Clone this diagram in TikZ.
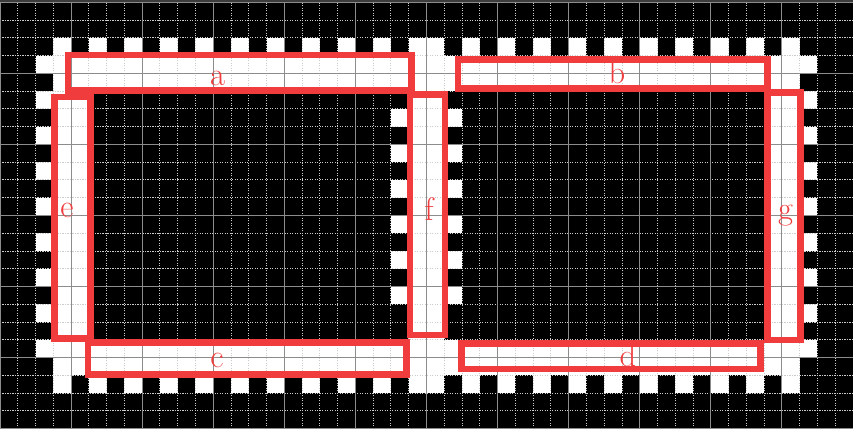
\documentclass[tikz,border=0pt]{standalone}
\definecolor{boxred}{RGB}{240,60,60}
\definecolor{dotgray}{RGB}{205,205,205}
\definecolor{solidgray}{RGB}{140,140,140}
\definecolor{topband}{RGB}{60,60,60}
\tikzset{
  pix/.style={fill=white},
  dotgrid/.style={draw=dotgray, line width=0.75pt, dash pattern=on 0.9pt off 1.1pt},
  solidgrid/.style={draw=solidgray, line width=0.8pt},
  hl/.style={draw=boxred, line width=5.3pt},
  lab/.style={text=boxred, font=\fontsize{26}{28}\selectfont, anchor=base, inner sep=0pt}
}
\begin{document}
\begin{tikzpicture}[x=0.5cm,y=0.5cm]
\useasboundingbox (0,-0.02) rectangle (48,24.124);
\fill[topband] (0,-0.02) rectangle (48,24.124);
\fill[black] (0,0) rectangle (48,24);
% full white rows
\fill[pix] (2,20) rectangle (46,21);
\fill[pix] (3,19) rectangle (45,20);
\fill[pix] (2,4) rectangle (46,5);
\fill[pix] (3,3) rectangle (45,4);
% vertical bars
\fill[pix] (3,5) rectangle (5,19);
\fill[pix] (23,5) rectangle (25,19);
\fill[pix] (43,5) rectangle (45,19);
% top and bottom dashed rows
\foreach \c in {3,5,...,21} {
  \fill[pix] (\c,21) rectangle ++(1,1);
  \fill[pix] (\c,2) rectangle ++(1,1);
}
\foreach \c in {26,28,...,44} {
  \fill[pix] (\c,21) rectangle ++(1,1);
  \fill[pix] (\c,2) rectangle ++(1,1);
}
\fill[pix] (23,21) rectangle (25,22);
\fill[pix] (23,2) rectangle (25,3);
% left and right dashed columns
\foreach \r in {5,7,...,17} {
  \fill[pix] (2,{23-\r}) rectangle ++(1,1);
  \fill[pix] (45,{23-\r}) rectangle ++(1,1);
}
% inner dashed columns
\foreach \r in {6,8,...,16} {
  \fill[pix] (22,{23-\r}) rectangle ++(1,1);
  \fill[pix] (25,{23-\r}) rectangle ++(1,1);
}
% grid
\foreach \x in {1,...,47} \draw[dotgrid] (\x,0) -- (\x,24);
\foreach \y in {1,...,23} \draw[dotgrid] (0,\y) -- (48,\y);
\foreach \x in {0,4,...,48} \draw[solidgrid] (\x,0) -- (\x,24);
\foreach \y in {0,4,...,24} \draw[solidgrid] (0,\y) -- (48,\y);
% highlight boxes
\draw[hl] (3.827,19.020) rectangle (23.157,21.029);
\draw[hl] (25.774,19.127) rectangle (43.191,20.775);
\draw[hl] (4.952,3.066) rectangle (22.887,4.850);
\draw[hl] (25.982,3.359) rectangle (42.808,4.805);
\draw[hl] (3.056,5.086) rectangle (5.104,18.665);
\draw[hl] (23.072,5.272) rectangle (25.042,18.817);
\draw[hl] (43.180,4.990) rectangle (45.059,18.907);
% labels
\node[lab] (la) at (12.24,19.31) {a};
\node[lab] (lb) at (34.72,19.40) {b};
\node[lab] (lc) at (12.21,3.47) {c};
\node[lab] (ld) at (35.34,3.49) {d};
\node[lab] (le) at (3.77,11.91) {e};
\node[lab] (lf) at (24.14,11.70) {f};
\node[lab] (lg) at (44.20,11.77) {g};
\end{tikzpicture}
\end{document}
